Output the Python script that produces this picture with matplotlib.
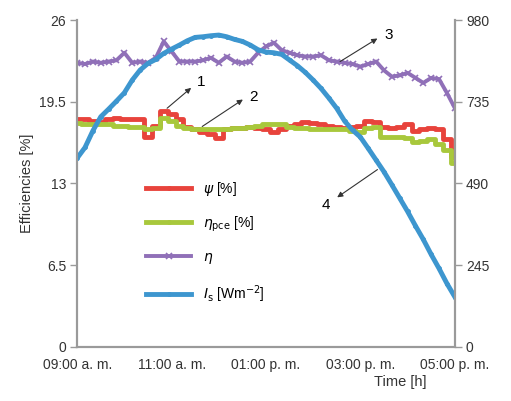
import matplotlib
matplotlib.use("Agg")
import matplotlib.pyplot as plt
import numpy as np

# readings every 10 min, 09:00 -> 17:00
hours = np.arange(49) / 6.0

psi = [18.1, 18.1, 18.0, 17.9, 18.1, 18.2, 18.1, 18.1, 18.1, 16.7,
       17.6, 18.8, 18.5, 18.1, 17.5, 17.3, 17.1, 16.9, 16.6, 17.3,
       17.4, 17.4, 17.5, 17.4, 17.3, 17.1, 17.3, 17.6, 17.7, 17.9,
       17.8, 17.7, 17.6, 17.5, 17.4, 17.5, 17.6, 18.0, 17.9, 17.5,
       17.4, 17.5, 17.7, 17.2, 17.3, 17.4, 17.3, 16.5, 15.1]

eta_pce = [17.8, 17.7, 17.7, 17.7, 17.7, 17.6, 17.6, 17.5, 17.5, 17.3,
           17.4, 18.2, 18.0, 17.6, 17.4, 17.3, 17.3, 17.3, 17.3, 17.3,
           17.4, 17.4, 17.5, 17.6, 17.7, 17.7, 17.7, 17.5, 17.4, 17.4,
           17.3, 17.3, 17.3, 17.3, 17.3, 17.2, 17.1, 17.4, 17.5, 16.7,
           16.7, 16.7, 16.6, 16.3, 16.4, 16.5, 16.1, 15.7, 14.6]

eta = [22.6, 22.5, 22.7, 22.6, 22.7, 22.8, 23.4, 22.6, 22.7, 22.6,
       23.0, 24.3, 23.5, 22.7, 22.7, 22.7, 22.8, 23.0, 22.6, 23.1,
       22.7, 22.6, 22.7, 23.4, 23.9, 24.2, 23.6, 23.4, 23.2, 23.1,
       23.1, 23.2, 22.8, 22.7, 22.6, 22.5, 22.3, 22.5, 22.7, 22.0,
       21.5, 21.6, 21.8, 21.4, 21.0, 21.4, 21.3, 20.2, 19.0]

irradiance = [566, 598, 648, 690, 713, 737, 762, 800, 830, 850,
              862, 880, 893, 905, 918, 928, 930, 933, 935, 930,
              922, 916, 905, 891, 884, 882, 877, 860, 843, 823,
              800, 775, 746, 715, 677, 650, 629, 595, 560, 525,
              486, 446, 406, 363, 322, 277, 235, 190, 150]

time_ticks = [0, 2, 4, 6, 8]
time_labels = ["09:00 a. m.", "11:00 a. m.", "01:00 p. m.", "03:00 p. m.", "05:00 p. m."]

c_red = "#e8433c"
c_green = "#a8c83c"
c_purple = "#9070b8"
c_blue = "#3d96cf"
grey = "#9a9a9a"

plt.rcParams["font.family"] = ["Liberation Sans", "DejaVu Sans"]

fig = plt.figure(figsize=(5.11, 4.01), dpi=100)
ax = fig.add_axes([0.151, 0.135, 0.739, 0.815])
ax2 = ax.twinx()

l_psi, = ax.plot(hours, psi, color=c_red, lw=3.5, drawstyle="steps-mid",
                 marker="o", ms=2.5, markevery=[], label=r"$\psi$ [%]")
l_pce, = ax.plot(hours, eta_pce, color=c_green, lw=3.5, drawstyle="steps-mid",
                 marker="o", ms=2.5, markevery=[], label=r"$\eta_{\rm pce}$ [%]")
l_eta, = ax.plot(hours, eta, color=c_purple, lw=2.8, marker="x", ms=4,
                 mew=1.2, label=r"$\eta$")
l_is, = ax2.plot(hours, irradiance, color=c_blue, lw=3.5, marker="o", ms=2.5,
                 label=r"$I_{\rm s}$ [Wm$^{-2}$]")

ax.set_xlim(0, 8)
ax.set_ylim(0, 26)
ax2.set_ylim(0, 980)
ax.set_yticks([0, 6.5, 13, 19.5, 26])
ax.set_yticklabels(["0", "6.5", "13", "19.5", "26"])
ax2.set_yticks([0, 245, 490, 735, 980])
ax.set_xticks(time_ticks)
ax.set_xticklabels(time_labels)

for a in (ax, ax2):
    a.spines["top"].set_visible(False)
    for s in ("left", "right", "bottom"):
        a.spines[s].set_color(grey)
        a.spines[s].set_linewidth(1.5)
    a.tick_params(labelsize=10, colors="#333333", length=5, width=1, pad=3)
    a.tick_params(axis="y", color=grey)
ax.tick_params(axis="x", length=0, pad=8)

ax.set_ylabel("Efficiencies [%]", fontsize=10.5, color="#333333", labelpad=4)
ax.set_xlabel("Time [h]", fontsize=10.5, color="#333333")
ax.xaxis.set_label_coords(0.855, -0.085)

arrow = dict(arrowstyle="-|>", color="#333333", lw=0.8, mutation_scale=8)
ax.annotate("", xy=(2.46, 20.75), xytext=(1.86, 18.84), arrowprops=arrow)
ax.text(2.62, 21.07, "1", fontsize=11, ha="center", va="center")
ax.annotate("", xy=(3.56, 19.80), xytext=(2.60, 17.41), arrowprops=arrow)
ax.text(3.74, 19.9, "2", fontsize=11, ha="center", va="center")
ax.annotate("", xy=(6.41, 24.65), xytext=(5.52, 22.58), arrowprops=arrow)
ax.text(6.60, 24.8, "3", fontsize=11, ha="center", va="center")
ax.annotate("", xy=(5.46, 11.77), xytext=(6.41, 14.23), arrowprops=arrow)
ax.text(5.27, 11.3, "4", fontsize=11, ha="center", va="center")

ax2.legend(handles=[l_psi, l_pce, l_eta, l_is], loc="upper left",
           bbox_to_anchor=(0.15, 0.55), frameon=False, fontsize=10,
           handlelength=3.2, labelspacing=1.2, handletextpad=0.9,
           markerscale=1.0)

fig.savefig("out.png", dpi=100)
